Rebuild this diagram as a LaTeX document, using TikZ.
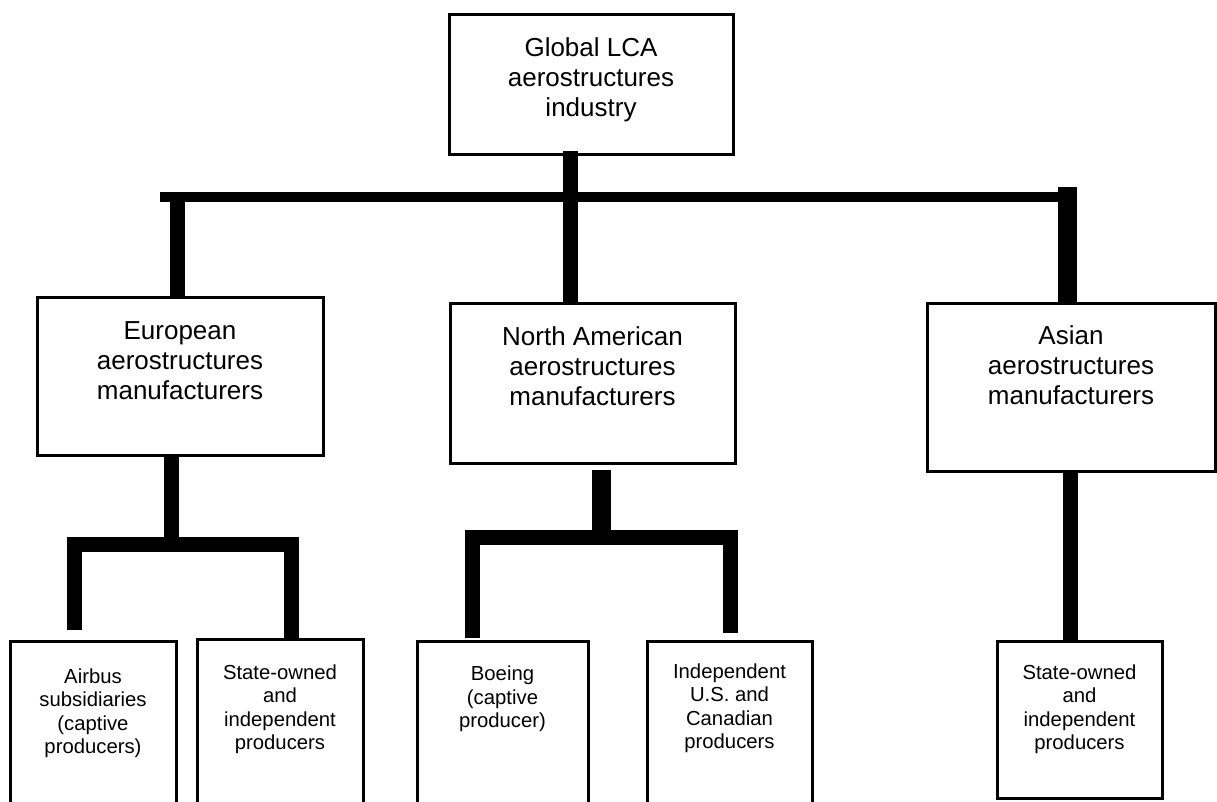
\documentclass[tikz,border=0pt]{standalone}
\usepackage{fontspec}
\setmainfont{Liberation Sans}
\usepackage{tikz}
\usetikzlibrary{positioning,calc}
\newcommand\hubfont{\fontsize{26pt}{30pt}\selectfont}
\newcommand\leaffont{\fontsize{20.3pt}{23.3pt}\selectfont}
\tikzset{
  hub/.style={draw,line width=3pt,inner sep=0pt,align=center,anchor=north,font=\hubfont},
  leaf/.style={hub,font=\leaffont},
  bus/.style={line width=10pt},
  stem/.style={line width=15pt},
  stemw/.style={line width=19pt}
}
\begin{document}
\begin{tikzpicture}[x=1pt,y=-1pt]
\useasboundingbox (0,0) rectangle (1217,801);
\clip (0,0) rectangle (1217,801);
\node[hub,minimum width=284pt,text height=102pt,text depth=38pt] (glob) at (591,13) {Global LCA\\aerostructures\\industry};
\node[hub,minimum width=286pt,text height=102pt,text depth=56pt] (eu) at (180,296) {European\\aerostructures\\manufacturers};
\node[hub,minimum width=285pt,text height=102pt,text depth=58pt] (na) at (592.5,302) {North American\\aerostructures\\manufacturers};
\node[hub,minimum width=288pt,text height=101pt,text depth=67pt] (asia) at (1071,302) {Asian\\aerostructures\\manufacturers};
\node[leaf,minimum width=166pt,text height=112pt,text depth=80pt] (airbus) at (93,640) {Airbus\\subsidiaries\\(captive\\producers)};
\node[leaf,minimum width=166pt,text height=110pt,text depth=80pt] (seuro) at (280,638) {State-owned\\and\\independent\\producers};
\node[leaf,minimum width=171pt,text height=86pt,text depth=100pt] (boeing) at (502.5,640) {Boeing\\(captive\\producer)};
\node[leaf,minimum width=165pt,text height=107pt,text depth=80pt] (indep) at (729.5,640) {Independent\\U.S. and\\Canadian\\producers};
\node[leaf,minimum width=165pt,text height=108pt,text depth=49pt] (sasia) at (1079.5,640) {State-owned\\and\\independent\\producers};
\coordinate (busL) at (160,197);
\coordinate (busR) at (1067.5,187);
\coordinate (euJ) at (171.5,544.5);
\coordinate (naJ) at (601.5,537.5);
\draw[bus] (busL) -- (busR |- busL);
\draw[stem] ([xshift=-2.5pt]eu.north) -- ([xshift=-2.5pt]eu.north |- busL);
\draw[stem] ([xshift=-21pt,yshift=5pt]glob.south) -- ([xshift=-21pt]glob.south |- na.north);
\draw[stemw] ([xshift=-3.5pt]asia.north) -- (busR);
\draw[stem] (eu.south -| euJ) -- (euJ);
\draw[stem] ([xshift=-18.5pt,yshift=10pt]airbus.north) |- (euJ) -| ([xshift=11pt]seuro.north);
\draw[stemw] ([yshift=-5pt]na.south -| naJ) -- (naJ);
\draw[stem] ([xshift=-30pt,yshift=2pt]boeing.north) |- (naJ) -| ([xshift=1pt,yshift=7pt]indep.north);
\draw[stem] ([xshift=-0.5pt]asia.south) -- ([xshift=-0.5pt]asia.south |- sasia.north);
\end{tikzpicture}
\end{document}
